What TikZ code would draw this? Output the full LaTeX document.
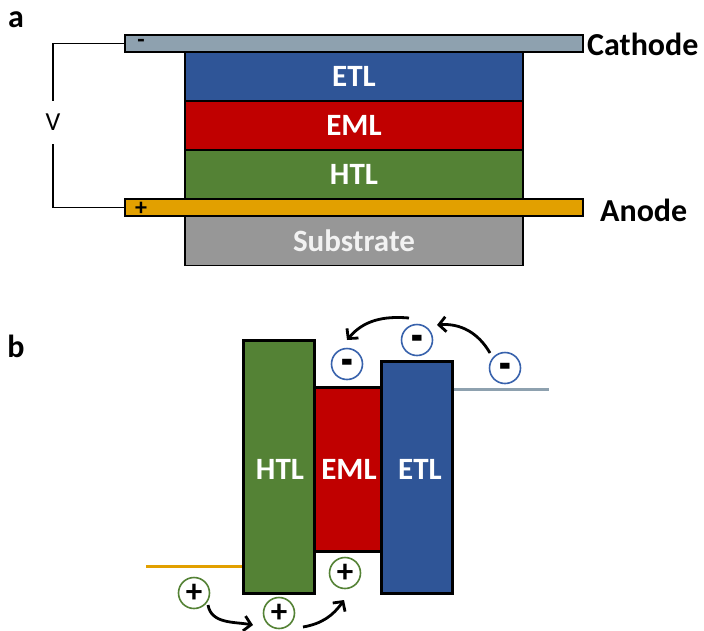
\documentclass[tikz,border=0pt]{standalone}
\usepackage{fontspec}
\setmainfont{Carlito}
\usetikzlibrary{arrows.meta}
\definecolor{cathc}{HTML}{8EA1AF}
\definecolor{anoc}{HTML}{E2A000}
\definecolor{etlc}{HTML}{2F5597}
\definecolor{emlc}{HTML}{C00000}
\definecolor{htlc}{HTML}{548235}
\definecolor{subc}{HTML}{979797}
\definecolor{ecirc}{HTML}{3862AC}
\newcommand{\esign}{\raisebox{-14.5pt}{\scalebox{1}[1.5]{-}}}
\begin{document}
\begin{tikzpicture}[x=1pt,y=1pt,
  lay/.style={draw=black, line width=1.8pt, inner sep=0pt, minimum width=338pt, minimum height=49pt,
    text=white, font=\fontsize{31}{34}\selectfont\bfseries},
  electrode/.style={draw=black, line width=1.8pt, inner sep=0pt, minimum width=458pt, minimum height=17pt},
  band/.style={draw=black, line width=3pt, inner sep=0pt, text=white, font=\fontsize{31}{34}\selectfont\bfseries},
  elec/.style={circle, draw=ecirc, line width=1.6pt, minimum size=31pt, inner sep=0pt, fill=white,
    text height=0pt, text depth=0pt, font=\fontsize{38}{40}\selectfont\bfseries},
  hole/.style={circle, draw=htlc, line width=1.6pt, minimum size=31pt, inner sep=0pt, fill=white,
    font=\fontsize{33}{36}\selectfont\bfseries},
  hop/.style={line width=2.8pt, -{Straight Barb[length=7pt,width=15pt]}},
  lvl/.style={line width=3pt},
  panel/.style={font=\fontsize{32}{34}\selectfont\bfseries},
  elab/.style={font=\fontsize{32}{34}\selectfont\bfseries, anchor=west, inner sep=0pt}
]
\useasboundingbox (0,0) rectangle (704,-630);

% ---------- panel a ----------
\node[panel] (pa) at (16,-20) {a};
\node[lay, fill=subc, text=white!95!black] (sub) at (354,-241) {Substrate};
\node[lay, fill=htlc] (htla) at (354,-174.5) {HTL};
\node[lay, fill=emlc] (emla) at (354,-125.5) {EML};
\node[lay, fill=etlc] (etla) at (354,-76.5) {ETL};
\node[electrode, fill=cathc] (cath) at (354,-43.5) {};
\node[electrode, fill=anoc] (anod) at (354,-207.5) {};
\node[font=\fontsize{24}{26}\selectfont\bfseries, inner sep=0pt] (mn) at (141,-43) {-};
\node[font=\fontsize{24}{26}\selectfont\bfseries, inner sep=0pt] (pl) at (141,-209) {+};
\node[elab] (cathl) at (587,-44) {Cathode};
\node[elab] (anodl) at (600,-210) {Anode};
\node[inner sep=0pt, minimum height=43pt, font=\fontsize{26}{28}\selectfont] (vv) at (53,-122.5) {V};
\draw[line width=1.8pt] (cath.west) -| (vv.north);
\draw[line width=1.8pt] (anod.west) -| (vv.south);

% ---------- panel b ----------
\node[panel] (pb) at (16,-346) {b};
\node[band, fill=htlc, minimum width=71pt, minimum height=253pt] (htlb) at (278.5,-466.5) {};
\node[band, fill=emlc, minimum width=67pt, minimum height=164pt] (emlb) at (347.5,-469) {};
\node[band, fill=etlc, minimum width=71pt, minimum height=232pt] (etlb) at (416.5,-477) {};
\node[text=white, font=\fontsize{31}{34}\selectfont\bfseries] (htlt) at (280,-469) {HTL};
\node[text=white, font=\fontsize{31}{34}\selectfont\bfseries] (emlt) at (349,-469) {EML};
\node[text=white, font=\fontsize{31}{34}\selectfont\bfseries] (etlt) at (420,-469) {ETL};

\coordinate (ol) at (146,-566);
\draw[lvl, anoc] (ol) -- (ol -| htlb.west);
\coordinate (cl) at (549,-389);
\draw[lvl, cathc] (cl -| etlb.east) -- (cl);

\node[elec] (e1) at (347,-364) {\esign};
\node[elec] (e2) at (417,-340) {\esign};
\node[elec] (e3) at (505,-368) {\esign};
\node[hole] (h1) at (194,-593) {+};
\node[hole] (h2) at (279,-613) {+};
\node[hole] (h3) at (345,-573) {+};

\draw[hop] ([shift={(-15,15)}]e3.center) to[out=120,in=5] ([shift={(20,15)}]e2.center);
\draw[hop] ([shift={(-8,22)}]e2.center) to[out=175,in=50] ([shift={(0,24)}]e1.center);
\draw[hop] ([shift={(14,-12)}]h1.center) to[out=-80,in=170] ([shift={(-26,-12)}]h2.center);
\draw[hop] ([shift={(24,-14)}]h2.center) to[out=10,in=235] ([shift={(-1,-27)}]h3.center);
\end{tikzpicture}
\end{document}
